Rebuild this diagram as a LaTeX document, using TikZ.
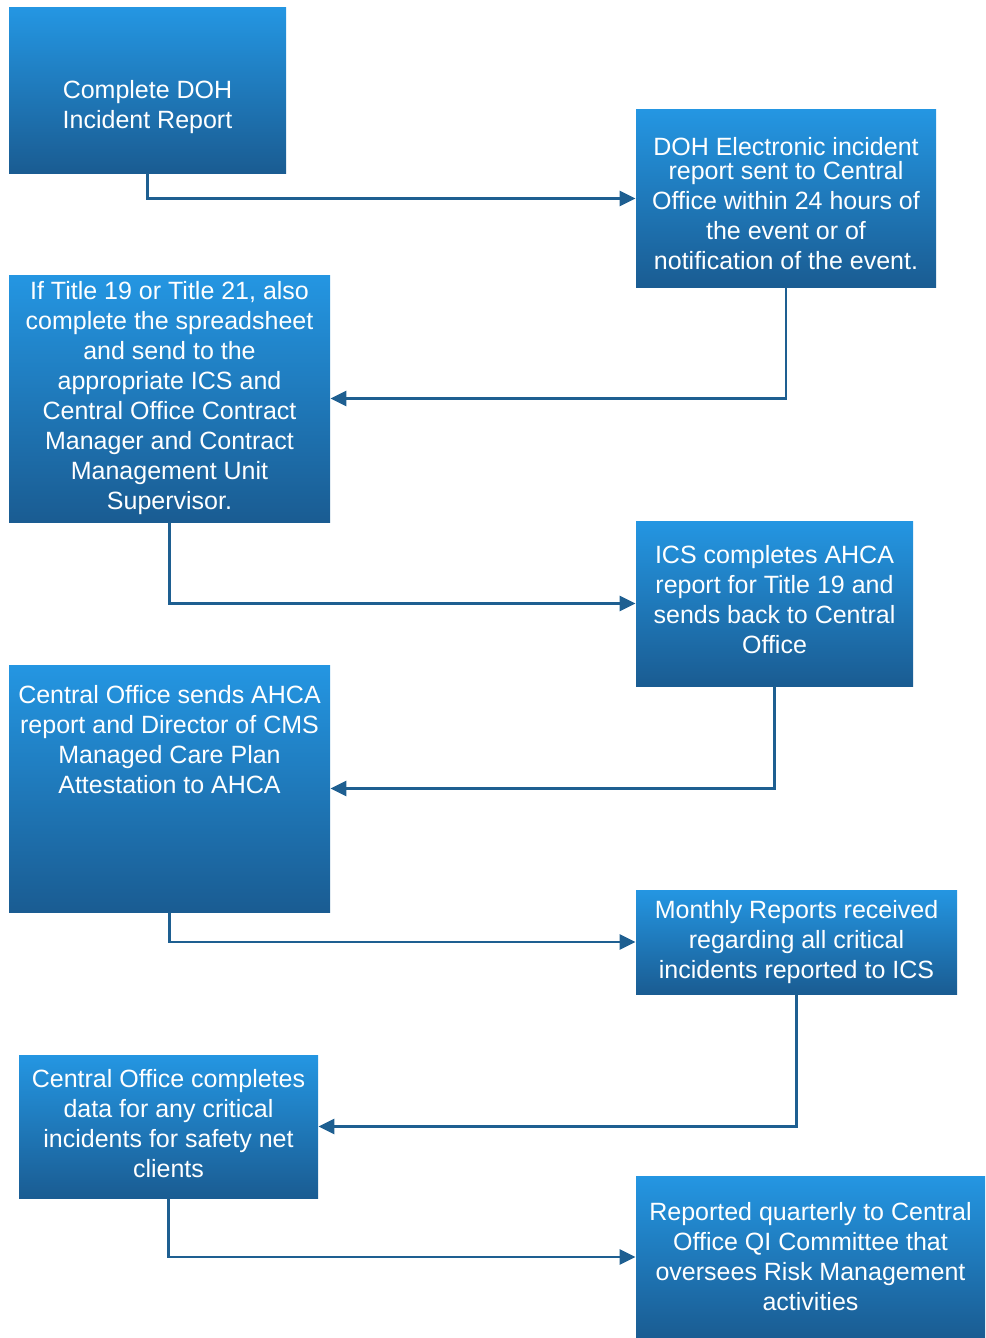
\documentclass[tikz,border=0pt]{standalone}
\usepackage{fontspec}
\setmainfont{Liberation Sans}
\usepackage{xcolor}
\usepackage{tikz}
\usetikzlibrary{arrows.meta,positioning,shapes}

\definecolor{boxtop}{RGB}{36,150,226}
\definecolor{boxbot}{RGB}{26,92,146}
\definecolor{flowline}{RGB}{30,95,145}

\tikzset{
  stepbox/.style={rectangle, top color=boxtop, bottom color=boxbot, draw=none,
    text=white, align=center, inner sep=0pt, font=\fontsize{12.5}{15}\selectfont},
  boxtext/.style={text=white, align=center, inner sep=0pt, font=\fontsize{12.5}{15}\selectfont},
  flow/.style={flowline, line width=1.3pt, -{Triangle[length=8pt,width=7.5pt]}}
}

\begin{document}
\begin{tikzpicture}[x=0.5pt,y=-0.5pt]
\useasboundingbox (0,0) rectangle (985,1338);

\node[stepbox, minimum width=138.5pt, minimum height=82.5pt] (report) at (147.5,90.5)
  {\rule{0pt}{26pt}Complete DOH\\Incident Report};

\node[stepbox, minimum width=150pt, minimum height=88.5pt] (electronic) at (786,198.5)
  {\rule{0pt}{14pt}DOH Electronic incident\\[-3pt]report sent to Central\\Office within 24 hours of\\the event or of\\notification of the event.};

\node[stepbox, minimum width=160.5pt, minimum height=123.5pt] (titles) at (169.5,398.5)
  {If Title 19 or Title 21, also\\complete the spreadsheet\\and send to the\\appropriate ICS and\\Central Office Contract\\Manager and Contract\\Management Unit\\Supervisor.};

\node[stepbox, minimum width=138.5pt, minimum height=82.5pt] (icsahca) at (774.5,603.5)
  {ICS completes AHCA\\report for Title 19 and\\sends back to Central\\Office\rule[-4pt]{0pt}{4pt}};

\node[stepbox, minimum width=160.5pt, minimum height=123.5pt] (cosends) at (169.5,788.5) {};
\node[boxtext, anchor=north] (cosendstext) at (169.5,685)
  {Central Office sends AHCA\\report and Director of CMS\\Managed Care Plan\\Attestation to AHCA};

\node[stepbox, minimum width=160.5pt, minimum height=52pt] (monthly) at (796.5,942)
  {Monthly Reports received\\regarding all critical\\incidents reported to ICS};

\node[stepbox, minimum width=149.5pt, minimum height=71.5pt] (codata) at (168.5,1126.5)
  {Central Office completes\\data for any critical\\incidents for safety net\\clients\rule[-3pt]{0pt}{3pt}};

\node[stepbox, minimum width=174.5pt, minimum height=81pt] (quarterly) at (810.5,1257)
  {Reported quarterly to Central\\Office QI Committee that\\oversees Risk Management\\activities};

\draw[flow] (report.south) |- (electronic.west);
\draw[flow] (electronic.south) |- (titles.east);
\draw[flow] (titles.south) |- (icsahca.west);
\draw[flow] (icsahca.south) |- (cosends.east);
\draw[flow] (cosends.south) |- (monthly.west);
\draw[flow] (monthly.south) |- (codata.east);
\draw[flow] (codata.south) |- (quarterly.west);

\end{tikzpicture}
\end{document}
